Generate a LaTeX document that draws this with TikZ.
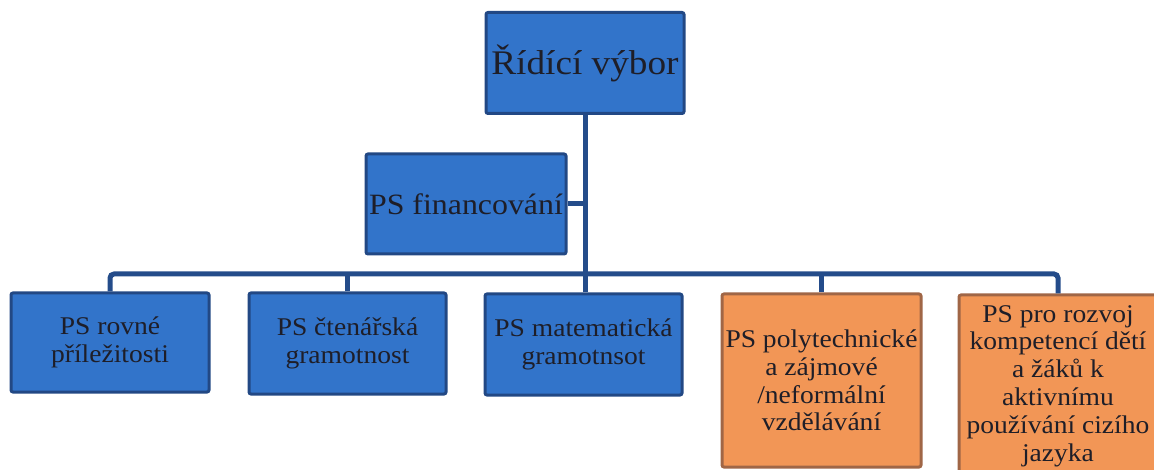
\documentclass[tikz,border=0pt]{standalone}
\usepackage{fontspec}
\setmainfont{Liberation Serif}[FakeStretch=1.08]
\newfontfamily\boxfont{Liberation Serif}[FakeStretch=1.08]
\definecolor{boxblue}{RGB}{50,116,202}
\definecolor{boxblueline}{RGB}{34,72,132}
\definecolor{boxorange}{RGB}{242,150,86}
\definecolor{boxorangeline}{RGB}{160,102,70}
\definecolor{connblue}{RGB}{36,76,138}
\definecolor{txt}{RGB}{30,30,40}
\tikzset{
  orgbox/.style={draw=boxblueline, line width=3pt, fill=boxblue, rounded corners=2pt,
    text=txt, align=center, inner sep=0pt},
  orgorange/.style={orgbox, draw=boxorangeline, fill=boxorange},
  conn/.style={draw=connblue, line width=5pt, rounded corners=4pt},
  lowtext/.style={font=\boxfont\fontsize{25.5}{27.8}\selectfont}
}
\begin{document}
\begin{tikzpicture}[x=1pt,y=-1pt]
\useasboundingbox (0,0) rectangle (1154,470);
\coordinate (bar) at (585,274);
\node[orgbox, minimum width=198pt, minimum height=101pt, font=\boxfont\fontsize{34.5}{38}\selectfont] (top) at (585,63) {Řídící výbor};
\node[orgbox, minimum width=200pt, minimum height=100pt, font=\boxfont\fontsize{29.5}{32}\selectfont] (fin) at (466,204) {PS financování};
\node[orgbox, lowtext, minimum width=198pt, minimum height=99pt] (b1) at (110,342.5) {PS rovné\\příležitosti};
\node[orgbox, lowtext, minimum width=197pt, minimum height=101pt] (b2) at (347.5,343.5) {PS čtenářská\\gramotnost};
\node[orgbox, lowtext, minimum width=197pt, minimum height=101pt] (b3) at (583.5,344.5) {PS matematická\\gramotnsot};
\node[orgorange, lowtext, minimum width=199pt, minimum height=173pt] (b4) at (821.5,380.5) {PS polytechnické\\a zájmové\\/neformální\\vzdělávání};
\node[orgorange, lowtext, minimum width=198pt, minimum height=182pt] (b5) at (1058,386) {PS pro rozvoj\\kompetencí dětí\\a žáků k\\aktivnímu\\používání cizího\\jazyka};
\draw[conn] (top.south) -- (top.south |- bar);
\draw[conn] (fin.east) -- (fin.east -| bar);
\draw[conn] (b1.north) |- (bar) -| (b5.north);
\draw[conn] (b2.north) -- (b2.north |- bar);
\draw[conn] (b3.north -| bar) -- (bar);
\draw[conn] (b4.north) -- (b4.north |- bar);
\end{tikzpicture}
\end{document}
